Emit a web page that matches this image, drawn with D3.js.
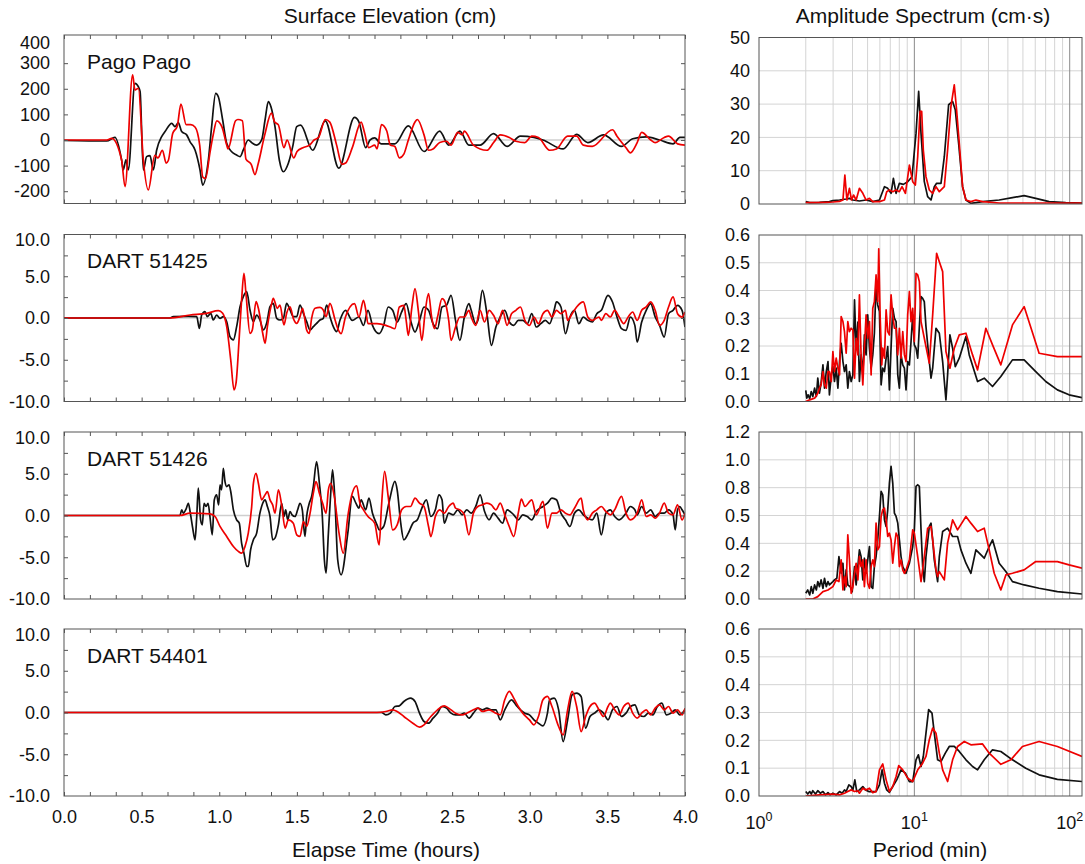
<!DOCTYPE html>
<html>
<head>
<meta charset="utf-8">
<script src="https://cdn.jsdelivr.net/npm/d3@7"></script>
<style>
  body { margin: 0; background: #fff; }
  svg { font-family: "Liberation Sans", Arial, Helvetica, sans-serif; }
</style>
</head>
<body>
<svg id="fig" width="1085" height="864"></svg>
<script>
// ---------------------------------------------------------------
// Tsunami records: surface elevation time series (left) and
// amplitude spectra (right). Black = observed, red = modelled.
// Time series are [hours, cm]; spectra are [period min, cm·s].
// ---------------------------------------------------------------

const stationNames = ["Pago Pago", "DART 51425", "DART 51426", "DART 54401"];

const timeTickValues = [0, 0.5, 1, 1.5, 2, 2.5, 3, 3.5, 4];
const timeTickLabels = ["0.0", "0.5", "1.0", "1.5", "2.0", "2.5", "3.0", "3.5", "4.0"];

const elevationDomains = [[-248, 410], [-10, 10], [-10, 10], [-10, 10]];
const elevationTickValues = [
  [-200, -100, 0, 100, 200, 300, 400],
  [-10, -5, 0, 5, 10], [-10, -5, 0, 5, 10], [-10, -5, 0, 5, 10]
];
const elevationTickLabels = [
  ["-200", "-100", "0", "100", "200", "300", "400"],
  ["-10.0", "-5.0", "0.0", "5.0", "10.0"],
  ["-10.0", "-5.0", "0.0", "5.0", "10.0"],
  ["-10.0", "-5.0", "0.0", "5.0", "10.0"]
];
const elevationMarkValues = [
  [-200, -100, 0, 100, 200, 300],
  [-7.5, -5, -2.5, 0, 2.5, 5, 7.5],
  [-7.5, -5, -2.5, 0, 2.5, 5, 7.5],
  [-7.5, -5, -2.5, 0, 2.5, 5, 7.5]
];

const spectrumDomains = [[0, 50], [0, 0.6], [0, 1.2], [0, 0.6]];
const spectrumTickValues = [
  [0, 10, 20, 30, 40, 50],
  [0, 0.1, 0.2, 0.3, 0.4, 0.5, 0.6],
  [0, 0.2, 0.4, 0.6, 0.8, 1.0, 1.2],
  [0, 0.1, 0.2, 0.3, 0.4, 0.5, 0.6]
];
const spectrumTickLabels = [
  ["0", "10", "20", "30", "40", "50"],
  ["0.0", "0.1", "0.2", "0.3", "0.4", "0.5", "0.6"],
  ["0.0", "0.2", "0.4", "0.5", "0.8", "1.0", "1.2"],
  ["0.0", "0.1", "0.2", "0.3", "0.4", "0.5", "0.6"]
];
const periodDomain = [1, 120];
const periodTickValues = [1, 10, 100];
const periodTickExponents = ["0", "1", "2"];

// ---- Pago Pago (tide gauge) ----
const pagoPagoObserved = [[0,-2],[0.275,-4],[0.328,10],[0.371,-78],[0.382,-117],[0.399,-78],[0.414,-117],[0.457,221],[0.479,208],[0.49,190],[0.511,-117],[0.532,-65],[0.554,-61],[0.575,-117],[0.597,-39],[0.629,13],[0.651,33],[0.694,65],[0.715,52],[0.736,68],[0.758,33],[0.79,20],[0.812,-7],[0.844,-39],[0.876,-117],[0.893,-176],[0.93,-78],[0.951,52],[0.977,182],[0.994,169],[1.022,78],[1.048,-13],[1.08,-46],[1.112,-59],[1.134,-65],[1.155,-39],[1.187,0],[1.215,-13],[1.241,-20],[1.273,0],[1.295,78],[1.316,150],[1.333,130],[1.359,52],[1.387,-78],[1.413,-124],[1.445,-91],[1.473,-26],[1.499,52],[1.524,58],[1.602,-40],[1.683,75],[1.77,-110],[1.871,88],[1.9,70],[1.943,-30],[1.972,0],[2.001,8],[2.044,-15],[2.131,-15],[2.218,55],[2.319,-45],[2.42,35],[2.478,-20],[2.55,35],[2.608,-20],[2.68,-20],[2.767,25],[2.854,-25],[2.94,15],[3.027,10],[3.085,0],[3.215,-35],[3.302,22],[3.374,-10],[3.475,20],[3.591,-25],[3.663,5],[3.75,12],[3.836,0],[3.923,-15],[3.967,10],[4.0,10]];
const pagoPagoModel = [[0,0],[0.275,0],[0.307,6],[0.371,-78],[0.393,-182],[0.442,254],[0.457,195],[0.479,202],[0.511,-78],[0.543,-195],[0.585,-60],[0.605,-70],[0.634,-40],[0.658,-90],[0.672,-80],[0.7,25],[0.73,55],[0.753,140],[0.787,60],[0.816,60],[0.845,50],[0.874,-20],[0.894,-145],[0.912,-150],[0.94,-50],[0.961,20],[0.984,75],[1.018,50],[1.048,-20],[1.056,-35],[1.105,75],[1.12,80],[1.149,75],[1.172,-75],[1.206,-95],[1.23,-135],[1.25,-95],[1.293,20],[1.336,105],[1.357,70],[1.38,60],[1.417,-30],[1.437,0],[1.48,-70],[1.501,-45],[1.539,-30],[1.582,-20],[1.611,0],[1.64,10],[1.683,80],[1.712,70],[1.756,-20],[1.79,-95],[1.814,-90],[1.857,-30],[1.914,70],[1.935,30],[1.963,-30],[2.001,-20],[2.016,-35],[2.045,60],[2.079,35],[2.102,-20],[2.131,-25],[2.16,-70],[2.189,-55],[2.218,0],[2.261,70],[2.276,80],[2.319,20],[2.348,-40],[2.377,-35],[2.42,-10],[2.464,-5],[2.493,-20],[2.536,30],[2.565,20],[2.579,35],[2.637,-20],[2.724,-40],[2.767,-10],[2.81,20],[2.868,10],[2.911,-5],[2.969,-10],[3.013,15],[3.056,10],[3.128,-40],[3.172,-35],[3.244,15],[3.302,15],[3.345,-20],[3.403,-25],[3.533,40],[3.562,15],[3.62,-30],[3.648,-50],[3.692,-10],[3.721,30],[3.779,0],[3.808,-10],[3.866,10],[3.894,15],[3.952,-15],[4.0,-20]];

// ---- DART 51425 ----
const dart51425Observed = [[0,0],[0.683,0],[0.704,0.16],[0.8,0.2],[0.855,0.16],[0.872,-1.24],[0.887,0.36],[0.908,0.76],[0.923,0.16],[0.945,0.56],[0.962,-0.24],[0.983,0.36],[1.005,-0.04],[1.026,0.16],[1.048,-0.44],[1.069,-2.23],[1.091,-2.63],[1.112,-1.04],[1.134,1.35],[1.155,2.55],[1.177,3.15],[1.198,0.96],[1.22,-0.44],[1.241,0.36],[1.262,-0.24],[1.284,-1.43],[1.305,-0.64],[1.327,1.35],[1.348,1.75],[1.37,-0.04],[1.391,-0.24],[1.413,-0.04],[1.434,1.75],[1.456,0.96],[1.477,0.16],[1.499,0.16],[1.52,1.55],[1.542,0.56],[1.563,-0.44],[1.585,-1.43],[1.606,-1.04],[1.627,-0.64],[1.649,-0.24],[1.67,-0.04],[1.692,1.55],[1.713,0.16],[1.735,-1.04],[1.756,-1.63],[1.778,-0.24],[1.813,0.92],[1.857,-0.28],[1.9,0.12],[1.929,-0.88],[1.958,0.92],[1.987,-0.88],[2.03,-1.88],[2.059,-0.88],[2.088,1.32],[2.117,0.92],[2.146,-0.48],[2.175,0.72],[2.204,1.72],[2.232,-0.28],[2.261,-1.68],[2.29,-0.28],[2.319,1.32],[2.348,0.92],[2.377,-0.68],[2.406,-1.28],[2.435,1.32],[2.464,1.52],[2.493,2.72],[2.522,-0.28],[2.55,-2.68],[2.579,0.12],[2.608,1.72],[2.623,0.92],[2.652,-0.68],[2.666,-0.28],[2.695,3.32],[2.724,0.52],[2.753,-3.28],[2.782,-1.08],[2.81,0.12],[2.839,0.92],[2.868,-0.48],[2.897,-0.88],[2.926,-0.28],[2.955,-0.28],[2.984,-0.68],[3.013,0.52],[3.042,-1.08],[3.071,-0.68],[3.1,-0.28],[3.128,-0.68],[3.157,0.92],[3.172,1.92],[3.201,1.32],[3.23,-1.88],[3.259,0.12],[3.288,0.92],[3.316,-0.68],[3.345,0.12],[3.374,-0.28],[3.403,-0.48],[3.432,0.52],[3.461,0.92],[3.504,2.72],[3.533,1.92],[3.562,0.12],[3.591,-1.28],[3.62,-1.48],[3.648,0.12],[3.677,-0.88],[3.692,-2.88],[3.721,-0.48],[3.75,0.92],[3.779,1.72],[3.808,0.12],[3.836,-0.88],[3.866,-2.28],[3.894,0.52],[3.923,0.92],[3.952,1.52],[3.981,0.92],[4.0,-1.08]];
const dart51425Model = [[0,0],[0.68,0],[0.812,0.36],[0.919,0.56],[0.994,0.88],[1.022,0.56],[1.048,-1.04],[1.074,-5.02],[1.095,-8.61],[1.108,-7.81],[1.129,-2.23],[1.144,2.15],[1.159,5.34],[1.172,2.95],[1.198,-1.83],[1.213,-1.43],[1.237,1.95],[1.252,1.16],[1.28,-1.83],[1.295,-3.03],[1.31,-1.04],[1.338,1.75],[1.348,2.35],[1.374,1.16],[1.391,1.55],[1.417,-0.84],[1.434,0.56],[1.456,1.35],[1.477,-0.04],[1.499,-0.64],[1.52,0.16],[1.537,1.16],[1.563,-1.43],[1.58,-1.83],[1.595,-0.04],[1.617,1.16],[1.649,1.27],[1.67,0.96],[1.688,0.16],[1.713,1.75],[1.746,-0.24],[1.767,-1.43],[1.785,-1.88],[1.813,0.12],[1.871,1.72],[1.9,0.12],[1.929,2.12],[1.944,0.92],[1.958,-0.68],[2.016,-0.68],[2.073,-0.88],[2.102,-1.08],[2.131,-1.28],[2.16,1.32],[2.189,1.52],[2.204,-0.28],[2.218,-2.08],[2.241,1.32],[2.261,3.52],[2.282,0.92],[2.305,-2.68],[2.325,0.52],[2.348,2.92],[2.368,0.12],[2.386,-1.28],[2.406,0.12],[2.435,2.32],[2.449,2.12],[2.478,-0.28],[2.493,-2.68],[2.522,-1.08],[2.55,0.12],[2.579,0.12],[2.608,0.92],[2.623,0.12],[2.652,-0.88],[2.68,0.92],[2.709,-0.48],[2.738,0.92],[2.767,0.32],[2.796,-0.68],[2.825,0.92],[2.854,-0.88],[2.883,0.52],[2.911,0.92],[2.94,1.32],[2.969,-0.28],[2.998,-0.88],[3.027,0.12],[3.056,-0.68],[3.085,0.52],[3.114,0.92],[3.143,0.12],[3.172,0.92],[3.201,0.52],[3.23,0.92],[3.244,-0.28],[3.273,0.52],[3.302,1.32],[3.345,1.92],[3.374,0.12],[3.403,-0.28],[3.446,0.12],[3.461,-0.28],[3.49,0.52],[3.519,0.12],[3.547,0.92],[3.576,0.12],[3.605,-0.68],[3.634,0.12],[3.663,0.72],[3.692,-0.28],[3.721,0.92],[3.75,1.32],[3.779,1.92],[3.808,0.92],[3.836,-0.88],[3.866,-0.28],[3.894,1.32],[3.923,2.52],[3.952,0.52],[3.981,0.12],[4.0,0.72]];

// ---- DART 51426 ----
const dart51426Observed = [[0,0],[0.747,0],[0.758,0.68],[0.769,0.28],[0.786,0.76],[0.801,1.47],[0.812,0.48],[0.829,-1.51],[0.844,-2.91],[0.855,-0.12],[0.865,3.27],[0.88,-0.52],[0.891,-1.12],[0.902,1.47],[0.915,1.08],[0.928,1.47],[0.94,-0.12],[0.955,-2.31],[0.968,1.87],[0.983,2.47],[0.996,1.27],[1.005,3.67],[1.015,3.07],[1.026,5.66],[1.037,4.06],[1.048,3.47],[1.063,3.67],[1.074,2.87],[1.091,0.68],[1.112,-0.52],[1.129,-0.92],[1.144,-3.31],[1.159,-4.5],[1.177,-6.1],[1.187,-6.1],[1.202,-4.1],[1.22,-2.91],[1.241,-2.11],[1.262,0.28],[1.28,1.47],[1.295,1.87],[1.31,1.08],[1.327,-0.12],[1.344,-2.91],[1.359,-2.71],[1.381,-1.12],[1.402,1.47],[1.417,-0.12],[1.428,0.68],[1.441,-0.52],[1.456,0.48],[1.469,0.08],[1.488,-0.12],[1.505,0.68],[1.52,1.47],[1.535,0.68],[1.552,-2.51],[1.563,-0.12],[1.58,1.47],[1.595,2.27],[1.606,3.47],[1.627,6.45],[1.645,3.86],[1.664,-0.12],[1.677,-5.3],[1.688,-6.89],[1.703,-2.11],[1.718,2.67],[1.73,5.46],[1.745,1.87],[1.763,-5.3],[1.785,-7.1],[1.828,-2.12],[1.857,2.28],[1.88,1.48],[1.9,0.88],[1.914,1.88],[1.943,0.68],[1.964,2.08],[1.987,0.28],[2.016,-1.12],[2.03,-1.72],[2.059,-1.32],[2.088,1.08],[2.102,2.28],[2.131,4.08],[2.146,3.08],[2.169,-0.92],[2.189,-2.92],[2.218,-2.12],[2.247,-0.92],[2.276,-0.52],[2.305,0.88],[2.334,1.88],[2.363,-0.12],[2.392,0.68],[2.415,2.48],[2.435,1.88],[2.449,-0.92],[2.478,0.28],[2.507,0.08],[2.536,0.68],[2.565,0.08],[2.594,0.68],[2.623,0.28],[2.652,1.08],[2.68,2.48],[2.709,0.48],[2.738,-0.52],[2.767,0.28],[2.796,-0.32],[2.825,-0.92],[2.854,0.68],[2.897,0.08],[2.926,-0.52],[2.955,0.08],[2.984,-0.12],[3.013,-0.52],[3.042,0.48],[3.085,1.08],[3.114,1.48],[3.143,2.08],[3.172,1.88],[3.201,0.28],[3.23,-0.52],[3.259,-1.32],[3.288,0.28],[3.316,0.68],[3.345,0.08],[3.374,-0.32],[3.403,-0.52],[3.432,0.28],[3.461,-2.32],[3.49,0.28],[3.519,0.68],[3.547,-0.12],[3.576,-0.52],[3.62,0.28],[3.648,1.08],[3.677,0.68],[3.692,0.08],[3.721,1.08],[3.75,0.28],[3.779,0.68],[3.808,-0.12],[3.836,0.28],[3.866,0.28],[3.894,0.68],[3.923,0.08],[3.937,-1.72],[3.952,0.68],[3.967,1.08],[3.981,0.68],[4.0,0.08]];
const dart51426Model = [[0,0],[0.747,0],[0.812,0.28],[0.94,0.2],[0.973,-0.12],[1.005,-1.31],[1.048,-2.51],[1.091,-3.71],[1.123,-4.3],[1.144,-4.5],[1.166,-3.71],[1.187,-2.11],[1.209,1.08],[1.22,3.86],[1.237,5.06],[1.252,3.86],[1.273,1.87],[1.295,2.47],[1.31,2.87],[1.327,1.87],[1.344,1.27],[1.359,0.28],[1.381,3.07],[1.402,1.27],[1.424,-1.51],[1.445,-0.52],[1.477,-0.92],[1.499,-2.31],[1.52,-2.51],[1.542,-0.72],[1.563,-1.31],[1.585,0.28],[1.606,2.67],[1.623,4.06],[1.645,2.67],[1.666,1.47],[1.688,0.28],[1.703,3.07],[1.718,3.86],[1.741,2.28],[1.77,-1.92],[1.799,-4.52],[1.828,-0.12],[1.857,2.68],[1.885,3.56],[1.906,1.48],[1.929,0.68],[1.958,-0.12],[2.001,-0.92],[2.03,-3.52],[2.045,1.08],[2.065,5.28],[2.088,2.28],[2.117,-1.72],[2.146,-1.12],[2.175,0.68],[2.204,1.08],[2.232,1.08],[2.261,2.08],[2.29,1.48],[2.319,1.08],[2.348,-1.32],[2.363,-2.52],[2.392,-0.12],[2.42,0.68],[2.449,0.28],[2.478,1.08],[2.507,1.48],[2.522,0.88],[2.55,0.68],[2.579,0.08],[2.608,-2.32],[2.637,0.28],[2.666,1.08],[2.695,1.28],[2.724,1.48],[2.753,1.28],[2.782,0.68],[2.81,1.48],[2.839,0.08],[2.868,-1.32],[2.897,-2.52],[2.926,0.28],[2.946,1.96],[2.969,1.08],[3.013,1.88],[3.042,0.08],[3.085,1.68],[3.114,-1.52],[3.143,0.28],[3.172,0.28],[3.201,0.68],[3.23,0.28],[3.259,0.08],[3.288,0.88],[3.331,2.08],[3.345,0.68],[3.374,-0.52],[3.403,0.28],[3.432,0.68],[3.461,1.08],[3.49,0.48],[3.519,0.08],[3.547,0.68],[3.591,2.28],[3.62,0.28],[3.648,-0.52],[3.692,0.28],[3.721,1.88],[3.75,-0.12],[3.779,0.08],[3.808,-0.32],[3.836,0.28],[3.866,1.48],[3.894,0.28],[3.923,0.08],[3.952,1.28],[3.981,-0.52],[4.0,0.28]];

// ---- DART 54401 ----
const dart54401Observed = [[0,0],[2.045,0],[2.073,-0.28],[2.102,-0.08],[2.131,0.72],[2.16,0.8],[2.189,1.32],[2.232,1.72],[2.261,1.32],[2.29,-0.08],[2.319,-1.08],[2.348,-1.28],[2.377,-0.68],[2.406,-0.08],[2.435,0.72],[2.464,0.52],[2.493,-0.08],[2.522,-0.28],[2.55,-0.28],[2.579,-0.08],[2.608,-0.68],[2.637,-0.08],[2.666,0.52],[2.695,0.32],[2.724,0.52],[2.753,0.32],[2.782,0.32],[2.81,-0.88],[2.839,0.32],[2.883,1.52],[2.911,0.92],[2.94,0.32],[2.969,-0.08],[2.998,-0.28],[3.027,-0.88],[3.056,-1.28],[3.085,-1.6],[3.114,-0.08],[3.128,1.52],[3.157,1.72],[3.186,0.32],[3.215,-3.48],[3.244,-0.88],[3.273,2.12],[3.302,2.32],[3.331,1.92],[3.36,-1.88],[3.388,-0.48],[3.417,-0.08],[3.446,0.32],[3.475,-0.08],[3.504,-0.88],[3.533,0.32],[3.562,0.72],[3.591,-0.48],[3.62,-0.08],[3.648,0.72],[3.677,0.92],[3.706,-0.28],[3.735,-0.48],[3.764,-0.08],[3.793,-0.28],[3.822,0.72],[3.851,1.12],[3.88,-0.28],[3.909,-0.08],[3.937,0.32],[3.966,-0.28],[4.0,0.32]];
const dart54401Model = [[0,0],[2.016,0],[2.073,0.12],[2.117,0.32],[2.146,0.12],[2.189,-0.48],[2.247,-1.28],[2.29,-1.76],[2.319,-1.48],[2.363,-0.48],[2.406,0.32],[2.449,0.8],[2.478,0.52],[2.522,-0.08],[2.565,-0.28],[2.594,-0.08],[2.637,0.32],[2.666,0.52],[2.695,0.12],[2.738,0.32],[2.782,-0.08],[2.81,-0.28],[2.839,1.52],[2.868,2.52],[2.897,1.72],[2.926,0.72],[2.955,-0.08],[2.998,-0.88],[3.027,-1.48],[3.056,-0.48],[3.085,1.52],[3.114,1.92],[3.143,0.72],[3.186,-1.68],[3.215,-2.68],[3.244,0.32],[3.273,2.52],[3.302,0.72],[3.331,-2.28],[3.36,-0.48],[3.388,0.72],[3.417,1.12],[3.446,0.32],[3.475,-0.48],[3.504,0.72],[3.518,1.12],[3.547,0.32],[3.576,-0.28],[3.605,0.72],[3.634,1.12],[3.663,-0.08],[3.692,-0.68],[3.721,-0.08],[3.75,0.32],[3.779,-0.28],[3.808,0.52],[3.836,0.92],[3.866,0.32],[3.894,0.72],[3.923,-0.08],[3.952,0.32],[3.981,-0.28],[4.0,0.52]];

// ---- Amplitude spectra ----
const pagoPagoSpecObserved = [[2.0,0.7],[2.12,0.4],[2.45,0.5],[2.84,0.7],[2.99,1.0],[3.3,1.2],[3.64,1.5],[3.82,1.7],[4.02,1.2],[4.43,0.9],[4.89,1.2],[5.4,0.7],[5.96,1.2],[6.42,5.2],[6.74,4.7],[7.08,3.2],[7.33,7.7],[7.63,3.2],[8.01,6.2],[8.5,5.9],[9.06,6.7],[9.66,8.2],[10.25,21.2],[10.66,33.8],[11.04,21.2],[11.59,6.7],[12.18,2.2],[12.8,1.2],[13.44,5.2],[13.91,6.2],[14.84,6.2],[15.59,14.2],[16.62,29.8],[17.63,30.8],[18.34,28.3],[19.28,18.2],[20.44,5.2],[21.48,1.2],[23.12,0.2],[24.9,0.4],[27.48,0.7],[35.16,1.2],[42.82,1.9],[50.89,2.5],[60.47,1.7],[73.68,0.7],[94.26,0.4],[120,0.3]];
const pagoPagoSpecModel = [[2.0,0.4],[2.34,0.4],[2.71,0.5],[2.99,0.6],[3.3,0.8],[3.47,1.2],[3.57,8.7],[3.68,1.2],[3.82,4.7],[3.94,1.2],[4.06,2.7],[4.22,1.2],[4.43,4.7],[4.66,3.2],[4.89,1.2],[5.14,1.7],[5.4,0.7],[5.96,0.7],[6.42,1.2],[6.64,3.7],[6.91,4.2],[7.26,3.7],[7.63,4.2],[8.01,3.7],[8.33,5.2],[8.76,3.2],[9.29,11.7],[9.76,6.7],[10.15,5.7],[10.51,14.2],[10.87,27.8],[11.15,27.8],[11.42,16.2],[11.88,8.2],[12.48,4.2],[13.12,3.2],[13.78,5.2],[14.48,3.7],[15.59,5.2],[16.37,16.2],[17.2,29.3],[18.07,35.8],[18.7,28.3],[19.46,18.2],[20.44,5.2],[21.48,1.2],[23.12,0.7],[24.9,1.2],[27.48,0.7],[35.16,0.3],[57.56,0.3],[120,0.3]];

const dart51425SpecObserved = [[2.0,0.04],[2.03,0.012],[2.07,0.024],[2.12,0.01],[2.17,0.036],[2.22,0.018],[2.28,0.048],[2.34,0.018],[2.39,0.084],[2.45,0.03],[2.51,0.066],[2.58,0.132],[2.64,0.048],[2.71,0.108],[2.78,0.144],[2.84,0.024],[2.92,0.096],[2.99,0.126],[3.06,0.072],[3.14,0.12],[3.22,0.048],[3.3,0.144],[3.38,0.21],[3.47,0.144],[3.55,0.108],[3.64,0.132],[3.73,0.048],[3.82,0.108],[3.92,0.072],[4.02,0.096],[4.12,0.366],[4.22,0.192],[4.33,0.286],[4.43,0.072],[4.54,0.168],[4.66,0.096],[4.77,0.24],[4.89,0.168],[5.01,0.312],[5.14,0.192],[5.27,0.12],[5.4,0.168],[5.53,0.246],[5.67,0.42],[5.81,0.348],[5.96,0.324],[6.11,0.06],[6.26,0.12],[6.42,0.108],[6.58,0.156],[6.74,0.198],[6.91,0.042],[7.08,0.192],[7.26,0.336],[7.44,0.3],[7.63,0.288],[7.82,0.096],[8.01,0.048],[8.21,0.168],[8.42,0.132],[8.63,0.12],[8.84,0.042],[9.06,0.144],[9.29,0.132],[9.52,0.216],[9.76,0.312],[10.0,0.204],[10.25,0.192],[10.51,0.156],[10.77,0.27],[11.04,0.378],[11.31,0.372],[11.59,0.36],[11.88,0.27],[12.48,0.144],[12.8,0.084],[13.12,0.12],[13.78,0.264],[14.48,0.246],[15.21,0.144],[15.97,0.006],[16.37,0.096],[16.94,0.24],[17.63,0.192],[18.34,0.126],[19.46,0.156],[21.48,0.234],[22.56,0.168],[25.52,0.072],[28.17,0.084],[31.86,0.054],[36.04,0.09],[42.82,0.15],[50.89,0.15],[60.47,0.108],[70.13,0.072],[83.33,0.042],[99.02,0.024],[120,0.014]];
const dart51425SpecModel = [[2.0,0],[2.12,0.006],[2.28,0.012],[2.39,0.03],[2.45,0.048],[2.51,0.06],[2.58,0.108],[2.64,0.06],[2.71,0.048],[2.78,0.108],[2.84,0.108],[2.92,0.072],[2.99,0.18],[3.06,0.108],[3.14,0.156],[3.22,0.12],[3.3,0.096],[3.38,0.306],[3.47,0.288],[3.55,0.252],[3.64,0.174],[3.73,0.288],[3.82,0.252],[3.92,0.264],[4.02,0.258],[4.12,0.084],[4.22,0.228],[4.33,0.168],[4.43,0.384],[4.54,0.168],[4.66,0.06],[4.77,0.192],[4.89,0.312],[5.01,0.228],[5.14,0.288],[5.27,0.096],[5.4,0.336],[5.53,0.36],[5.67,0.456],[5.81,0.36],[5.9,0.55],[6.02,0.312],[6.17,0.132],[6.26,0.192],[6.42,0.156],[6.58,0.33],[6.74,0.252],[6.91,0.24],[7.08,0.384],[7.26,0.312],[7.44,0.264],[7.63,0.264],[7.82,0.168],[8.01,0.264],[8.21,0.156],[8.42,0.252],[8.63,0.168],[8.84,0.144],[9.06,0.312],[9.29,0.396],[9.52,0.288],[9.76,0.336],[10.0,0.216],[10.25,0.462],[10.51,0.456],[10.77,0.432],[11.04,0.288],[11.59,0.228],[12.48,0.138],[13.12,0.312],[13.91,0.534],[14.48,0.504],[15.21,0.468],[15.97,0.18],[16.94,0.12],[18.07,0.192],[19.46,0.24],[21.48,0.246],[23.7,0.168],[25.52,0.114],[28.87,0.264],[31.86,0.204],[36.04,0.132],[42.82,0.276],[50.89,0.342],[63.53,0.174],[83.33,0.162],[120,0.162]];

const dart51426SpecObserved = [[2.0,0.041],[2.06,0.065],[2.12,0.029],[2.17,0.089],[2.22,0.041],[2.28,0.101],[2.34,0.065],[2.39,0.125],[2.45,0.089],[2.51,0.137],[2.58,0.077],[2.64,0.149],[2.71,0.089],[2.78,0.125],[2.84,0.101],[2.99,0.125],[3.06,0.137],[3.17,0.149],[3.27,0.305],[3.38,0.185],[3.47,0.257],[3.55,0.065],[3.64,0.209],[3.73,0.101],[3.86,0.089],[3.98,0.053],[4.12,0.233],[4.22,0.101],[4.43,0.353],[4.54,0.305],[4.66,0.137],[4.77,0.293],[4.89,0.185],[5.01,0.281],[5.14,0.377],[5.27,0.089],[5.4,0.077],[5.53,0.233],[5.67,0.305],[5.81,0.425],[5.96,0.593],[6.11,0.773],[6.26,0.749],[6.42,0.569],[6.58,0.521],[6.74,0.641],[6.91,0.833],[7.08,0.953],[7.26,0.833],[7.44,0.617],[7.63,0.593],[7.82,0.545],[8.01,0.425],[8.21,0.305],[8.42,0.233],[8.63,0.209],[8.84,0.185],[9.29,0.257],[9.76,0.377],[10.0,0.497],[10.25,0.809],[10.51,0.821],[10.77,0.809],[11.04,0.497],[11.31,0.233],[11.59,0.125],[11.88,0.305],[12.48,0.521],[12.8,0.545],[13.12,0.425],[13.44,0.281],[14.12,0.125],[14.48,0.305],[15.21,0.485],[16.37,0.509],[17.63,0.449],[18.97,0.449],[19.95,0.353],[21.48,0.257],[23.12,0.185],[24.9,0.353],[26.16,0.329],[28.17,0.293],[30.33,0.377],[31.86,0.425],[35.16,0.257],[38.81,0.197],[42.82,0.125],[50.89,0.101],[63.53,0.077],[83.33,0.053],[120,0.036]];
const dart51426SpecModel = [[2.0,0],[2.22,0],[2.39,0.017],[2.58,0.053],[2.78,0.065],[2.99,0.089],[3.14,0.137],[3.27,0.125],[3.38,0.281],[3.47,0.065],[3.55,0.161],[3.64,0.089],[3.73,0.461],[3.82,0.281],[3.92,0.041],[4.02,0.089],[4.12,0.185],[4.22,0.257],[4.33,0.137],[4.43,0.305],[4.54,0.233],[4.66,0.281],[4.77,0.089],[4.89,0.281],[5.01,0.113],[5.14,0.077],[5.27,0.233],[5.4,0.281],[5.53,0.233],[5.67,0.545],[5.81,0.353],[5.96,0.377],[6.11,0.593],[6.26,0.641],[6.42,0.653],[6.58,0.569],[6.74,0.449],[6.91,0.473],[7.08,0.425],[7.26,0.257],[7.44,0.377],[7.63,0.473],[7.82,0.449],[8.01,0.233],[8.21,0.281],[8.42,0.209],[8.63,0.185],[8.84,0.209],[9.29,0.281],[9.76,0.497],[10.0,0.473],[10.51,0.305],[11.04,0.125],[11.59,0.305],[12.18,0.509],[12.8,0.521],[13.12,0.425],[13.78,0.209],[14.12,0.161],[14.48,0.197],[15.59,0.137],[16.37,0.401],[17.63,0.569],[18.97,0.497],[21.48,0.593],[23.12,0.545],[25.52,0.485],[28.17,0.509],[30.33,0.353],[32.66,0.185],[36.04,0.065],[38.81,0.173],[42.82,0.185],[50.89,0.209],[60.47,0.269],[70.13,0.269],[83.33,0.269],[99.02,0.245],[120,0.221]];

const dart54401SpecObserved = [[2.0,0.016],[2.06,0.007],[2.12,0.016],[2.17,0.007],[2.22,0.019],[2.31,0.007],[2.39,0.019],[2.48,0.01],[2.58,0.016],[2.68,0.004],[2.78,0.012],[2.87,0.004],[2.99,0.01],[3.14,0.004],[3.3,0.016],[3.43,0.01],[3.55,0.022],[3.64,0.016],[3.79,0.04],[3.92,0.034],[4.02,0.022],[4.14,0.058],[4.26,0.016],[4.43,0.022],[4.66,0.034],[4.84,0.022],[5.09,0.016],[5.35,0.016],[5.67,0.016],[5.96,0.04],[6.2,0.094],[6.42,0.046],[6.64,0.022],[6.91,0.013],[7.26,0.034],[7.7,0.058],[8.21,0.094],[8.76,0.082],[9.29,0.052],[9.76,0.052],[10.25,0.13],[10.61,0.148],[11.04,0.106],[11.42,0.142],[11.88,0.226],[12.36,0.31],[12.99,0.298],[13.44,0.226],[14.12,0.13],[14.84,0.124],[15.82,0.154],[16.78,0.178],[18.07,0.178],[19.46,0.16],[21.48,0.13],[23.7,0.106],[25.52,0.094],[28.17,0.13],[31.86,0.166],[36.04,0.16],[42.82,0.13],[52.16,0.1],[63.53,0.076],[83.33,0.06],[120,0.052]];
const dart54401SpecModel = [[2.0,0],[2.45,0.004],[2.99,0.007],[3.3,0.004],[3.55,0.01],[3.73,0.016],[3.92,0.022],[4.12,0.016],[4.33,0.019],[4.43,0.01],[4.66,0.028],[4.89,0.022],[5.14,0.028],[5.4,0.012],[5.67,0.016],[5.96,0.094],[6.26,0.115],[6.58,0.058],[6.91,0.016],[7.26,0.034],[7.63,0.07],[7.93,0.109],[8.42,0.094],[9.06,0.064],[9.76,0.052],[10.51,0.094],[11.31,0.118],[11.88,0.142],[12.48,0.202],[13.12,0.244],[13.78,0.226],[14.48,0.154],[15.21,0.094],[16.37,0.052],[17.63,0.13],[18.97,0.178],[20.96,0.196],[23.12,0.184],[27.48,0.187],[30.33,0.154],[36.04,0.114],[41.78,0.13],[49.65,0.178],[63.53,0.196],[83.33,0.178],[120,0.142]];

const observedSeries = [pagoPagoObserved, dart51425Observed, dart51426Observed, dart54401Observed];
const modelSeries = [pagoPagoModel, dart51425Model, dart51426Model, dart54401Model];
const observedSpectra = [pagoPagoSpecObserved, dart51425SpecObserved, dart51426SpecObserved, dart54401SpecObserved];
const modelSpectra = [pagoPagoSpecModel, dart51425SpecModel, dart51426SpecModel, dart54401SpecModel];

// ---------------------------------------------------------------
// Layout
// ---------------------------------------------------------------
const W = 1085, H = 864;
const OBS_COLOR = "#111111";
const MOD_COLOR = "#ee0000";
const FRAME_COLOR = "#555555";
const TICK_FONT = 18;
const TITLE_FONT = 21;
const TRACE_WIDTH = 1.7;

const leftRows = [
  { top: 35, bottom: 203.5 },
  { top: 234.5, bottom: 401.5 },
  { top: 432, bottom: 599 },
  { top: 629, bottom: 796 }
];
const rightRows = [
  { top: 37.5, bottom: 204 },
  { top: 235, bottom: 401.5 },
  { top: 432, bottom: 599 },
  { top: 629, bottom: 796 }
];

const svg = d3.select("#fig").attr("width", W).attr("height", H);

const xTime = d3.scaleLinear().domain([0, 4]).range([64, 685]);
const xPeriod = d3.scaleLog().domain(periodDomain).range([759, 1082]);

// every ten minutes along the time axis
const tenMinuteTicks = d3.range(0, 24 + 1).map(k => k / 6);

function styleAxis(g) {
  g.select(".domain").remove();
  g.attr("font-family", null).attr("font-size", TICK_FONT);
  g.selectAll(".tick line").attr("stroke", FRAME_COLOR).attr("stroke-width", 1);
  g.selectAll(".tick text").attr("fill", "#111");
}

// ---------------- time-series panels ----------------
leftRows.forEach((row, i) => {
  const y = d3.scaleLinear().domain(elevationDomains[i]).range([row.bottom, row.top]);
  const g = svg.append("g");
  const clipId = "clipL" + i;
  svg.append("clipPath").attr("id", clipId)
    .append("rect")
    .attr("x", xTime(0)).attr("y", row.top)
    .attr("width", xTime(4) - xTime(0)).attr("height", row.bottom - row.top);

  // zero reference
  g.append("line")
    .attr("x1", xTime(0)).attr("x2", xTime(4))
    .attr("y1", y(0)).attr("y2", y(0))
    .attr("stroke", "#cfcfcf").attr("stroke-width", 1.5);

  const line = d3.line()
    .x(d => xTime(d[0])).y(d => y(d[1]))
    .curve(d3.curveMonotoneX);

  const traces = g.append("g").attr("clip-path", `url(#${clipId})`);
  traces.append("path").datum(observedSeries[i])
    .attr("d", line).attr("fill", "none")
    .attr("stroke", OBS_COLOR).attr("stroke-width", TRACE_WIDTH).attr("stroke-linejoin", "round");
  traces.append("path").datum(modelSeries[i])
    .attr("d", line).attr("fill", "none")
    .attr("stroke", MOD_COLOR).attr("stroke-width", TRACE_WIDTH).attr("stroke-linejoin", "round");

  // frame
  g.append("rect")
    .attr("x", xTime(0)).attr("y", row.top)
    .attr("width", xTime(4) - xTime(0)).attr("height", row.bottom - row.top)
    .attr("fill", "none").attr("stroke", FRAME_COLOR).attr("stroke-width", 1);

  // inward tick marks on all four sides
  const isBottomRow = i === leftRows.length - 1;
  const bottomAxis = d3.axisBottom(xTime).tickValues(tenMinuteTicks).tickSize(-4).tickPadding(14)
    .tickFormat(d => {
      const k = timeTickValues.findIndex(v => Math.abs(v - d) < 1e-6);
      return isBottomRow && k >= 0 ? timeTickLabels[k] : "";
    });
  g.append("g").attr("transform", `translate(0,${row.bottom})`).call(bottomAxis).call(styleAxis);
  g.append("g").attr("transform", `translate(0,${row.top})`)
    .call(d3.axisTop(xTime).tickValues(tenMinuteTicks).tickSize(-4).tickFormat(""))
    .call(styleAxis);

  g.append("g").attr("transform", `translate(${xTime(0)},0)`)
    .call(d3.axisLeft(y).tickValues(elevationMarkValues[i]).tickSize(-4).tickFormat(""))
    .call(styleAxis);
  g.append("g").attr("transform", `translate(${xTime(4)},0)`)
    .call(d3.axisRight(y).tickValues(elevationMarkValues[i]).tickSize(-4).tickFormat(""))
    .call(styleAxis);

  // value labels
  const labelAxis = d3.axisLeft(y).tickValues(elevationTickValues[i]).tickSize(0).tickPadding(14)
    .tickFormat((d, k) => elevationTickLabels[i][k]);
  const la = g.append("g").attr("transform", `translate(${xTime(0)},0)`).call(labelAxis).call(styleAxis);
  // the top label sits a little inside the frame corner
  la.selectAll(".tick text").filter(d => d > 0 && y(d) - row.top < 4).attr("dy", "0.62em");

  // station name
  g.append("text")
    .attr("x", 87).attr("y", row.top + 33.5)
    .attr("font-size", TITLE_FONT).attr("fill", "#111")
    .text(stationNames[i]);
});

// ---------------- spectrum panels ----------------
const periodGrid = xPeriod.ticks().filter(p => p > periodDomain[0] && p < periodDomain[1]);

rightRows.forEach((row, i) => {
  const y = d3.scaleLinear().domain(spectrumDomains[i]).range([row.bottom, row.top]);
  const g = svg.append("g");
  const clipId = "clipR" + i;
  svg.append("clipPath").attr("id", clipId)
    .append("rect")
    .attr("x", xPeriod.range()[0]).attr("y", row.top)
    .attr("width", xPeriod.range()[1] - xPeriod.range()[0]).attr("height", row.bottom - row.top);

  // grid
  g.append("g").selectAll("line").data(spectrumTickValues[i].slice(1, -1)).join("line")
    .attr("x1", xPeriod.range()[0]).attr("x2", xPeriod.range()[1])
    .attr("y1", d => y(d)).attr("y2", d => y(d))
    .attr("stroke", "#d4d4d4").attr("stroke-width", 1);
  g.append("g").selectAll("line").data(periodGrid).join("line")
    .attr("x1", d => xPeriod(d)).attr("x2", d => xPeriod(d))
    .attr("y1", row.top).attr("y2", row.bottom)
    .attr("stroke", d => (Math.abs(Math.log10(d) - Math.round(Math.log10(d))) < 1e-9) ? "#8a8a8a" : "#d4d4d4")
    .attr("stroke-width", 1);

  const line = d3.line().x(d => xPeriod(d[0])).y(d => y(d[1]));
  const traces = g.append("g").attr("clip-path", `url(#${clipId})`);
  traces.append("path").datum(observedSpectra[i])
    .attr("d", line).attr("fill", "none")
    .attr("stroke", OBS_COLOR).attr("stroke-width", TRACE_WIDTH).attr("stroke-linejoin", "round");
  traces.append("path").datum(modelSpectra[i])
    .attr("d", line).attr("fill", "none")
    .attr("stroke", MOD_COLOR).attr("stroke-width", TRACE_WIDTH).attr("stroke-linejoin", "round");

  // frame
  g.append("rect")
    .attr("x", xPeriod.range()[0]).attr("y", row.top)
    .attr("width", xPeriod.range()[1] - xPeriod.range()[0]).attr("height", row.bottom - row.top)
    .attr("fill", "none").attr("stroke", FRAME_COLOR).attr("stroke-width", 1);

  const labelAxis = d3.axisLeft(y).tickValues(spectrumTickValues[i]).tickSize(0).tickPadding(9)
    .tickFormat((d, k) => spectrumTickLabels[i][k]);
  g.append("g").attr("transform", `translate(${xPeriod.range()[0]},0)`).call(labelAxis).call(styleAxis);

  if (i === rightRows.length - 1) {
    const lab = g.append("g").attr("font-size", TICK_FONT).attr("fill", "#111");
    periodTickValues.forEach((p, k) => {
      const t = lab.append("text")
        .attr("x", xPeriod(p)).attr("y", row.bottom + 33)
        .attr("text-anchor", "middle");
      t.append("tspan").text("10");
      t.append("tspan").attr("font-size", 12.5).attr("dy", -8).text(periodTickExponents[k]);
    });
  }
});

// ---------------- titles ----------------
svg.append("text").attr("x", 390).attr("y", 23).attr("text-anchor", "middle")
  .attr("font-size", TITLE_FONT).attr("fill", "#111").text("Surface Elevation (cm)");
svg.append("text").attr("x", 923).attr("y", 23).attr("text-anchor", "middle")
  .attr("font-size", TITLE_FONT).attr("fill", "#111").text("Amplitude Spectrum (cm·s)");
svg.append("text").attr("x", 386).attr("y", 857).attr("text-anchor", "middle")
  .attr("font-size", TITLE_FONT).attr("fill", "#111").text("Elapse Time (hours)");
svg.append("text").attr("x", 930).attr("y", 857).attr("text-anchor", "middle")
  .attr("font-size", TITLE_FONT).attr("fill", "#111").text("Period (min)");
</script>
</body>
</html>
